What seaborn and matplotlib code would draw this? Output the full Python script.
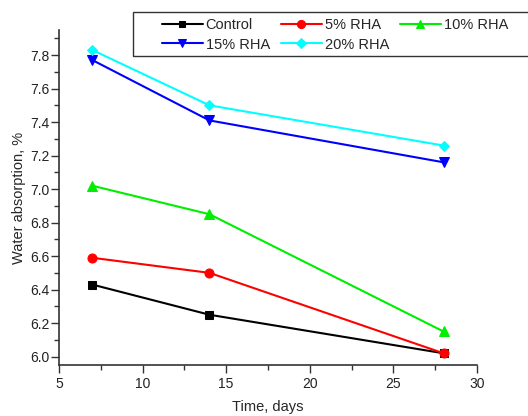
import matplotlib
matplotlib.use("Agg")
import matplotlib.pyplot as plt
from matplotlib.ticker import MultipleLocator, AutoMinorLocator, FormatStrFormatter
from matplotlib.patches import Rectangle
import seaborn as sns
import pandas as pd

days = [7, 14, 28]
control = [6.43, 6.25, 6.02]
rha5 = [6.59, 6.50, 6.02]
rha10 = [7.02, 6.85, 6.15]
rha15 = [7.77, 7.41, 7.16]
rha20 = [7.83, 7.50, 7.26]
series_names = ["Control", "5% RHA", "10% RHA", "15% RHA", "20% RHA"]

sns.set_theme(style="ticks")
plt.rcParams["font.family"] = ["Liberation Sans", "DejaVu Sans"]

rows = []
for name, vals in zip(series_names, [control, rha5, rha10, rha15, rha20]):
    for d, v in zip(days, vals):
        rows.append({"Time": d, "Absorption": v, "Mix": name})
df = pd.DataFrame(rows)

colors = ["#000000", "#ff0000", "#00ee00", "#0000ff", "#00ffff"]
markers = ["s", "o", "^", "v", "D"]
msizes = [5.5, 6.5, 6.5, 6.5, 5.5]

fig = plt.figure(figsize=(5.28, 4.16), dpi=100)
ax = fig.add_axes([0.1117, 0.1226, 0.7917, 0.8054])

handles = {}
for name, c, m, ms in zip(series_names, colors, markers, msizes):
    sub = df[df["Mix"] == name]
    sns.lineplot(data=sub, x="Time", y="Absorption", ax=ax, color=c,
                 marker=m, markersize=ms, markeredgecolor=c, linewidth=1.5,
                 legend=False)
    handles[name] = ax.lines[-1]

ax.set_xlim(5, 30)
ax.set_ylim(5.95, 7.95)
ax.xaxis.set_major_locator(MultipleLocator(5))
ax.xaxis.set_minor_locator(AutoMinorLocator(2))
ax.yaxis.set_major_locator(MultipleLocator(0.2))
ax.yaxis.set_minor_locator(AutoMinorLocator(2))
ax.tick_params(which="major", direction="out", length=6, width=1, labelsize=10,
               colors="#333333", labelcolor="#222222")
ax.tick_params(which="minor", direction="out", length=3.5, width=1, colors="#333333")
ax.tick_params(axis="y", which="major", pad=1)
ax.tick_params(axis="x", which="major", pad=3)
ax.yaxis.set_major_formatter(FormatStrFormatter("%.1f"))
for s in ["top", "right"]:
    ax.spines[s].set_visible(False)
for s in ["left", "bottom"]:
    ax.spines[s].set_color("#333333")
    ax.spines[s].set_linewidth(1.2)

ax.set_xlabel("Time, days", fontsize=10.5, labelpad=6)
ax.set_ylabel("Water absorption, %", fontsize=10.5, labelpad=3)

# legend laid out row by row: Control, 5%, 10% / 15%, 20%
order = ["Control", "15% RHA", "5% RHA", "20% RHA", "10% RHA"]
leg = fig.legend(handles=[handles[n] for n in order], labels=order, ncol=3,
                 loc="upper left", bbox_to_anchor=(162 / 528, 1 - 18 / 416),
                 fontsize=10.5, frameon=False,
                 handlelength=2.8, handletextpad=0.2, columnspacing=0.75,
                 labelspacing=0.38, borderpad=0.0, borderaxespad=0, markerscale=0.9)

# legend box frame, running past the right edge of the figure
fig.patches.append(Rectangle((133 / 528, 1 - 56 / 416), 0.95, 44 / 416,
                             transform=fig.transFigure, fill=False,
                             edgecolor="#333333", linewidth=1.0))

fig.savefig("out.png", dpi=100)
